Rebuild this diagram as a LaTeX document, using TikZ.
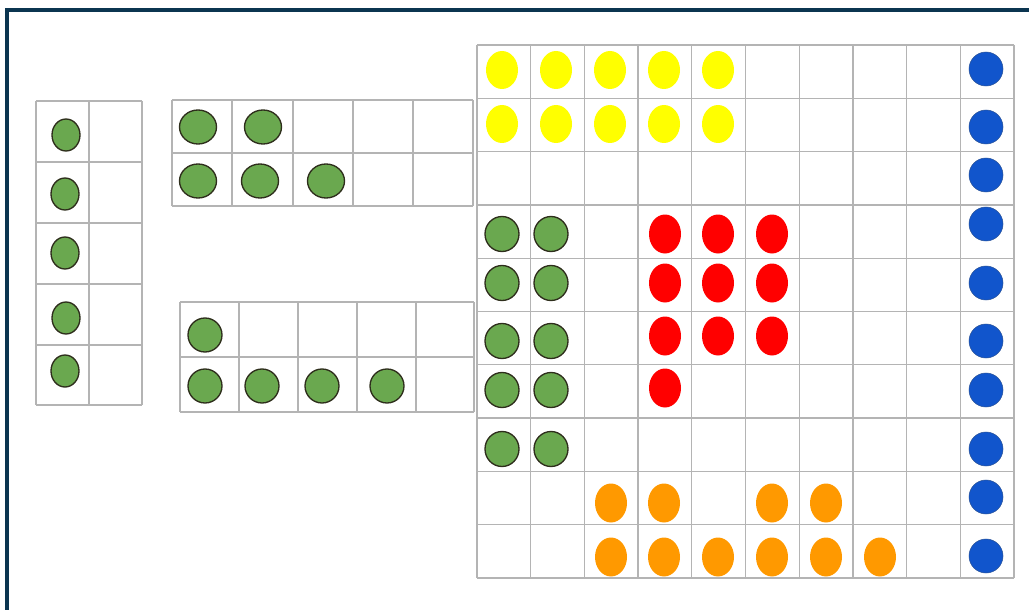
\documentclass[tikz,border=0pt]{standalone}
\usetikzlibrary{positioning}

\definecolor{framec}{HTML}{0B3550}
\definecolor{gridc}{HTML}{B4B4B4}
\definecolor{dotgreen}{HTML}{6AA84F}
\definecolor{dotedge}{HTML}{2E2E1C}
\definecolor{dotyellow}{HTML}{FFFF00}
\definecolor{dotred}{HTML}{FF0000}
\definecolor{dotorange}{HTML}{FF9900}
\definecolor{dotblue}{HTML}{1155CC}
\definecolor{blueedge}{HTML}{2A5398}

\begin{document}
\begin{tikzpicture}[x=0.75pt, y=-0.75pt,
  cell/.style={draw=gridc, line width=0.95pt},
  gdot/.style={fill=dotgreen, draw=dotedge, line width=1pt},
  ydot/.style={fill=dotyellow},
  rdot/.style={fill=dotred},
  odot/.style={fill=dotorange},
  bdot/.style={fill=dotblue, draw=blueedge, line width=0.4pt}
]
  \useasboundingbox (0,0) rectangle (1029,610);

  % frame
  \draw[framec, line width=2.6pt] (7,610) -- (7,10) -- (1029,10);

  % left tall frame (2 x 5)
  \foreach \x in {36,89,142} \draw[cell] (\x,101) -- (\x,405);
  \foreach \y in {101,162,223,284,345,405} \draw[cell] (36,\y) -- (142,\y);
  \foreach \x/\y in {66/135, 65/194, 65/253, 66/318, 65/371}
    \draw[gdot] (\x,\y) ellipse[x radius=14, y radius=16];

  % top middle frame (5 x 2)
  \foreach \x in {172,232,293,353,413,473} \draw[cell] (\x,100) -- (\x,206);
  \foreach \y in {100,153,206} \draw[cell] (172,\y) -- (473,\y);
  \foreach \x/\y in {198/127, 263/127, 198/181, 260/181, 326/181}
    \draw[gdot] (\x,\y) ellipse[x radius=18.5, y radius=17];

  % bottom middle frame (5 x 2)
  \foreach \x in {180,239,298,357,416,474} \draw[cell] (\x,302) -- (\x,412);
  \foreach \y in {302,357,412} \draw[cell] (180,\y) -- (474,\y);
  \foreach \x/\y in {205/335, 205/386, 262/386, 322/386, 387/386}
    \draw[gdot] (\x,\y) ellipse[x radius=17, y radius=17];

  % big grid (10 x 10)
  \foreach \i in {0,...,10} {
    \draw[cell] ({477+53.7*\i},45) -- ({477+53.7*\i},578);
    \draw[cell] (477,{45+53.3*\i}) -- (1014,{45+53.3*\i});
  }

  % yellow
  \foreach \y in {70,124}
    \foreach \x in {502,556,610,664,718}
      \fill[ydot] (\x,\y) ellipse[x radius=16, y radius=19];

  % green
  \foreach \y in {234,283,341,390,449}
    \foreach \x in {502,551}
      \draw[gdot] (\x,\y) ellipse[x radius=17, y radius=17.5];

  % red
  \foreach \y in {234,283,336}
    \foreach \x in {665,718,772}
      \fill[rdot] (\x,\y) ellipse[x radius=16, y radius=19.5];
  \fill[rdot] (665,388) ellipse[x radius=16, y radius=19.5];

  % orange
  \foreach \x/\y in {611/503, 664/503, 772/503, 826/503,
                     611/557, 664/557, 718/557, 772/557, 826/557, 880/557}
    \fill[odot] (\x,\y) ellipse[x radius=16, y radius=19.5];

  % blue
  \foreach \y in {69,127,175,224,283,341,390,449,497,556}
    \draw[bdot] (986,\y) circle[radius=17];
\end{tikzpicture}
\end{document}
